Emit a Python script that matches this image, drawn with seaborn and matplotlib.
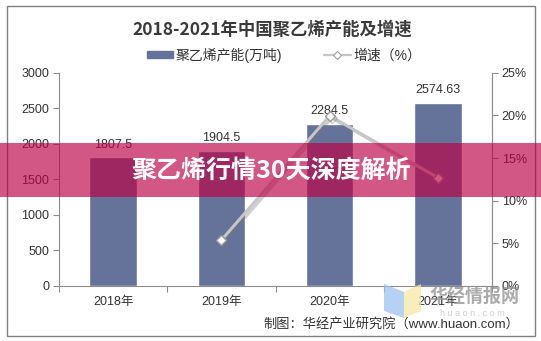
import matplotlib
matplotlib.use("Agg")
import matplotlib.pyplot as plt
import matplotlib.patheffects as pe
from matplotlib.patches import Rectangle, Polygon
from matplotlib.lines import Line2D
from matplotlib.ticker import FuncFormatter
import seaborn as sns
import pandas as pd

# ---- data ----
years = ["2018年", "2019年", "2020年", "2021年"]
capacity = [1807.5, 1904.5, 2284.5, 2574.63]          # 万吨
growth_years = ["2019年", "2020年", "2021年"]
growth = [5.37, 19.95, 12.70]                          # %
left_ticks = [0, 500, 1000, 1500, 2000, 2500, 3000]
right_ticks = [0, 5, 10, 15, 20, 25]

title = "2018-2021年中国聚乙烯产能及增速"
bar_name = "聚乙烯产能(万吨)"
line_name = "增速（%）"
banner = "聚乙烯行情30天深度解析"
source = "制图：华经产业研究院（www.huaon.com）"
brand = "华经情报网"
brand_url = "h u a o n . c o m"

BAR = "#65729a"
LINE = "#c6c6c6"
SPINE = "#8c8c8c"
TEXT = "#333333"

W, H = 541, 341

sns.set_theme(style="white")
plt.rcParams["font.family"] = ["Liberation Sans", "Noto Sans CJK SC", "DejaVu Sans"]

fig = plt.figure(figsize=(W / 100, H / 100), dpi=100)
fig.patch.set_facecolor("white")


def fx(x):
    return x / W


def fy(y):
    return 1 - y / H


ax = fig.add_axes([fx(59), 55 / H, 433 / W, 213.3 / H])

df = pd.DataFrame({"year": years, "capacity": capacity})
sns.barplot(data=df, x="year", y="capacity", color=BAR, saturation=1,
            width=0.44, ax=ax, zorder=2)
ax.bar_label(ax.containers[0], labels=[f"{v:g}" for v in capacity],
             padding=5, fontsize=9, color=TEXT)

ax.set_xlim(-0.5, 3.5)
ax.set_ylim(0, 3000)
ax.set_yticks(left_ticks)
ax.set_xticks(range(len(years)))
ax.set_xticklabels(years)
ax.set_xticks([i - 0.5 for i in range(len(years) + 1)], minor=True)
ax.set_xlabel("")
ax.set_ylabel("")
ax.tick_params(axis="x", which="major", length=0, pad=7, labelsize=9,
               labelcolor=TEXT)
ax.tick_params(axis="x", which="minor", bottom=True, length=4, width=0.8,
               color=SPINE, direction="out")
ax.tick_params(axis="y", left=True, length=4, width=0.8, color=SPINE,
               direction="out", labelsize=9, labelcolor=TEXT, pad=3)
for side in ("left", "bottom", "right"):
    ax.spines[side].set_color(SPINE)
    ax.spines[side].set_linewidth(0.8)
ax.spines["top"].set_visible(False)
ax.grid(False)

# growth rate on the secondary axis
ax2 = ax.twinx()
xpos = [years.index(y) for y in growth_years]
sns.lineplot(x=xpos, y=growth, ax=ax2, color=LINE, linewidth=2.2,
             marker="D", markersize=5, markerfacecolor="white",
             markeredgecolor="#9a9a9a", markeredgewidth=1,
             path_effects=[pe.SimpleLineShadow(offset=(1.5, -1.5),
                                               shadow_color="#777777",
                                               alpha=0.35),
                           pe.Normal()])
ax2.set_xlim(-0.5, 3.5)
ax2.set_ylim(0, 25)
ax2.set_yticks(right_ticks)
ax2.yaxis.set_major_formatter(FuncFormatter(lambda v, _: f"{v:.0f}%"))
ax2.set_ylabel("")
ax2.tick_params(axis="y", right=True, length=4, width=0.8, color=SPINE,
                direction="out", labelsize=9, labelcolor=TEXT, pad=3)
for side in ("left", "bottom", "top"):
    ax2.spines[side].set_visible(False)
ax2.spines["right"].set_color(SPINE)
ax2.spines["right"].set_linewidth(0.8)
ax2.grid(False)

# title and legend
fig.text(fx(272), fy(30), title, ha="center", va="center", fontsize=12.5,
         fontweight="bold", color="#3a3a3a", family=["Noto Sans CJK SC"])
handles = [
    Rectangle((0, 0), 1, 1, color=BAR),
    Line2D([], [], color=LINE, lw=1.6, marker="D", markersize=4,
           markerfacecolor="white", markeredgecolor="#a0a0a0",
           markeredgewidth=0.8),
]
fig.legend(handles, [bar_name, line_name], loc="center",
           bbox_to_anchor=(fx(284), fy(55)), ncol=2, frameon=False,
           fontsize=10, handlelength=1.9, handleheight=0.35,
           handletextpad=0.2, columnspacing=3.0, labelcolor=TEXT)

# source note and brand mark
fig.text(fx(519), fy(324), source, ha="right", va="center", fontsize=9.5,
         color=TEXT, zorder=4)
logo_blue = [(384, 284), (404, 292), (404, 318), (384, 311)]
logo_yellow = [(404, 292), (421, 284), (421, 311), (404, 318)]
for pts, col in ((logo_blue, "#9cc2f0"), (logo_yellow, "#f6e9a6")):
    fig.patches.append(Polygon([(fx(a), fy(b)) for a, b in pts], closed=True,
                               transform=fig.transFigure, facecolor=col,
                               edgecolor="none", alpha=0.75, zorder=3))
fig.text(fx(474), fy(297), brand, ha="center", va="center", fontsize=13,
         fontweight="bold", color="#8f8f8f", alpha=0.75,
         family=["Noto Sans CJK SC"], zorder=4)
fig.text(fx(472), fy(313), brand_url, ha="center", va="center", fontsize=6.5,
         color="#d0d0d0", zorder=4)

# outer frame
fig.patches.append(Rectangle((fx(7), fy(336)), (535 - 7) / W, (336 - 5.5) / H,
                             transform=fig.transFigure, fill=False,
                             edgecolor="#808080", linewidth=1, zorder=5))

# banner across the middle
fig.patches.append(Rectangle((0, fy(197)), 1, 54 / H, transform=fig.transFigure,
                             facecolor="#bc0046", alpha=0.66, linewidth=0,
                             zorder=10))
fig.text(fx(271), fy(171), banner, ha="center", va="center", fontsize=18,
         fontweight="bold", color="white", family=["Noto Sans CJK SC"],
         zorder=11)

fig.savefig("out.png", dpi=100)
